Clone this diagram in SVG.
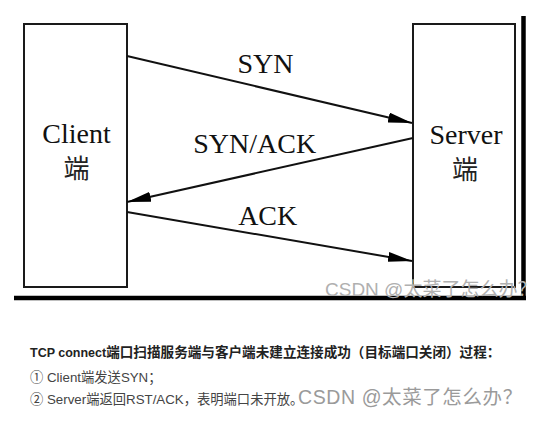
<svg xmlns="http://www.w3.org/2000/svg" width="537" height="428" viewBox="0 0 537 428">
<defs>
<style>
.box{fill:#fff;stroke:#1a1a1a;stroke-width:2}
.edge{fill:none;stroke:#111;stroke-width:2}
.lbl{font-family:"Liberation Serif","Times New Roman",serif;font-size:28px;fill:#111;text-anchor:middle}
.cjk{font-family:"Noto Sans CJK SC",sans-serif;font-size:26px;fill:#222;text-anchor:middle}
.frame{stroke:#000;stroke-width:4.5;fill:none}
.body{font-family:"Liberation Sans","Noto Sans CJK SC",sans-serif;fill:#444;font-size:13.3px}
.wm{font-family:"Liberation Sans","Noto Sans CJK SC",sans-serif;fill:#9a9a9a}
</style>
<marker id="ah" markerUnits="userSpaceOnUse" markerWidth="24" markerHeight="10" refX="24" refY="5" orient="auto">
<path d="M0,0 L24,5 L0,10 Z" fill="#000"/>
</marker>
</defs>
<rect width="537" height="428" fill="#fff"/>
<g id="client">
<rect class="box" x="24" y="24" width="103" height="263"/>
<text class="lbl" x="76.5" y="143">Client</text>
<text class="cjk" x="76.5" y="178">端</text>
</g>
<g id="server">
<rect class="box" x="413" y="24" width="102" height="263"/>
<text class="lbl" x="466" y="144">Server</text>
<text class="cjk" x="465" y="179">端</text>
</g>
<g id="connectors">
<line class="edge" x1="127" y1="56" x2="412" y2="123" marker-end="url(#ah)"/>
<line class="edge" x1="413" y1="138" x2="127" y2="202" marker-end="url(#ah)"/>
<line class="edge" x1="127" y1="212" x2="412" y2="261" marker-end="url(#ah)"/>
<text class="lbl" x="265.5" y="73">SYN</text>
<text class="lbl" x="254.7" y="153">SYN/ACK</text>
<text class="lbl" x="267.7" y="225">ACK</text>
</g>
<g id="frame">
<line class="frame" x1="523.5" y1="16" x2="523.5" y2="300"/>
<line class="frame" x1="14" y1="298" x2="526" y2="298"/>
</g>
<text class="wm" x="325" y="296" font-size="19" style="fill:#b0b0b0">CSDN @太菜了怎么办？</text>
<g id="caption">
<text class="body" x="30" y="357" font-weight="bold" style="fill:#222;font-size:13.6px"><tspan font-size="12.5">TCP connect</tspan>端口扫描服务端与客户端未建立连接成功（目标端口关闭）过程：</text>
<text class="body" x="30" y="382">① Client端发送SYN；</text>
<text class="body" x="30" y="404">② Server端返回RST/ACK，表明端口未开放。</text>
<text class="wm" x="298" y="404" font-size="19.5" letter-spacing="0.6">CSDN @太菜了怎么办？</text>
</g>
</svg>
